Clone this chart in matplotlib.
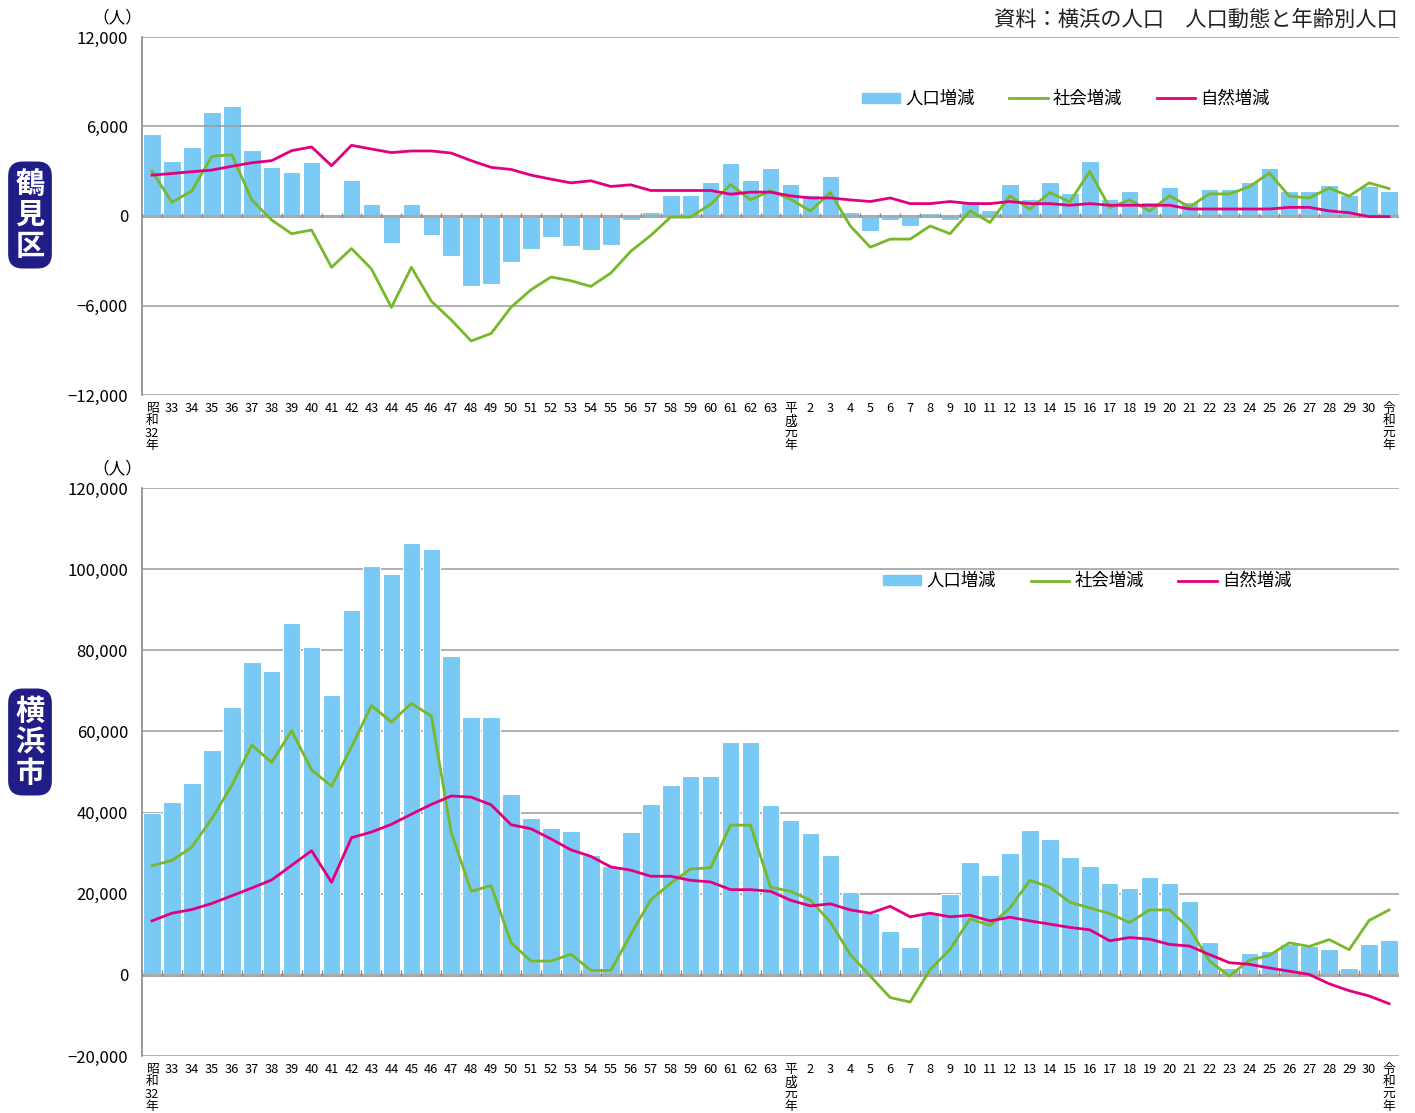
import numpy as np
import matplotlib
matplotlib.use('Agg')
import matplotlib.pyplot as plt
from matplotlib.lines import Line2D
from matplotlib.patches import Patch

plt.rcParams['font.family'] = ['Noto Sans CJK JP', 'DejaVu Sans']

# year labels: 昭和32 .. 63, 平成元 .. 30, 令和元
years = (['昭\n和\n32\n年'] + [str(y) for y in range(33, 64)]
         + ['平\n成\n元\n年'] + [str(y) for y in range(2, 31)]
         + ['令\n和\n元\n年'])

# 鶴見区
tsurumi_total = [5500, 3700, 4600, 7000, 7350, 4450, 3300, 2950, 3600, -70,
                 2400, 800, -1800, 800, -1300, -2670, -4700, -4560, -3060, -2180,
                 -1420, -2040, -2290, -1930, -270, 290, 1440, 1440, 2290,
                 3570, 2430, 3190,
                 2160, 1420, 2670, 290, -1030, -270, -650, 180, -270, 1030,
                 400, 2160, 1170, 2290, 1530, 3690, 1170, 1660, 920, 1930,
                 920, 1800, 1800, 2290, 3190, 1660, 1660, 2070, 1420, 2040,
                 1660]
tsurumi_social = [3010, 920, 1690, 4000, 4110, 1080, -270, -1190, -940, -3440,
                  -2180, -3550, -6130, -3440, -5710, -6970, -8380, -7870, -6110, -4940,
                  -4090, -4340, -4720, -3820, -2360, -1300, -70, -70, 790,
                  2110, 1080, 1690,
                  1120, 340, 1570, -670, -2090, -1550, -1550, -670, -1190, 340,
                  -430, 1350, 450, 1570, 940, 2990, 560, 1080, 340, 1350,
                  610, 1480, 1480, 1960, 2880, 1330, 1210, 1870, 1330, 2220,
                  1840]
tsurumi_natural = [2740, 2850, 2970, 3080, 3330, 3570, 3710, 4380, 4630, 3370,
                   4740, 4490, 4250, 4360, 4360, 4220, 3710, 3260, 3120, 2740,
                   2470, 2220, 2360, 1980, 2090, 1710, 1710, 1710, 1710,
                   1460, 1600, 1600,
                   1350, 1210, 1210, 1080, 970, 1210, 830, 830, 970, 830,
                   830, 970, 830, 830, 720, 830, 720, 720, 720, 720,
                   470, 470, 470, 470, 470, 580, 580, 340, 220, -40,
                   -40]

# 横浜市
yokohama_total = [39800, 42700, 47300, 55500, 65900, 77200, 74900, 86800, 80800, 69100,
                  90000, 100800, 98700, 106400, 104900, 78600, 63600, 63600, 44600, 38700,
                  36300, 35500, 29600, 26900, 35100, 42200, 46900, 49100, 49100,
                  57300, 57300, 41800,
                  38200, 35000, 29600, 20400, 15200, 10800, 6900, 15400, 19900, 27700,
                  24500, 30000, 35800, 33600, 29100, 26900, 22700, 21400, 24100, 22700,
                  18200, 8100, 1600, 5400, 5900, 7700, 7100, 6400, 1800, 7700,
                  8600]
yokohama_social = [26900, 28200, 31500, 38500, 46700, 56600, 52400, 60200, 50500, 46500,
                   56200, 66400, 62300, 66900, 63800, 35100, 20600, 22000, 7900, 3400,
                   3400, 5100, 1100, 1100, 10000, 18500, 22600, 26100, 26400,
                   36900, 36900, 21600,
                   20600, 18400, 13000, 5000, -300, -5600, -6700, 1300, 6300, 13800,
                   12200, 16500, 23300, 21600, 17900, 16500, 15100, 12900, 16000, 16000,
                   11400, 3400, -300, 3600, 4800, 7900, 7000, 8700, 6200, 13400,
                   16000]
yokohama_natural = [13300, 15200, 16100, 17600, 19500, 21400, 23400, 27000, 30600, 22800,
                    33800, 35200, 37100, 39600, 42000, 44100, 43800, 41900, 37000, 36000,
                    33500, 30800, 29200, 26600, 25800, 24300, 24300, 23300, 22900,
                    21000, 21000, 20600,
                    18400, 17000, 17500, 16000, 15200, 16900, 14300, 15200, 14300, 14700,
                    13300, 14200, 13300, 12500, 11700, 11100, 8400, 9200, 8800, 7500,
                    7100, 5000, 3000, 2600, 1700, 900, 100, -2200, -3900, -5200,
                    -7100]

BAR = '#78c9f3'
GREEN = '#78b82a'
PINK = '#e3007f'
NAVY = '#201d87'
GRID = '#9a9a9a'

fig = plt.figure(figsize=(14.15, 11.13), dpi=100)


def draw_panel(ax, total, social, natural, yticks, grid_over_bars):
    x = np.arange(len(years))
    ax.bar(x, total, width=0.88, color=BAR, edgecolor='white', linewidth=0.8,
           zorder=2)
    ax.plot(x, social, color=GREEN, lw=2.0, zorder=4)
    ax.plot(x, natural, color=PINK, lw=2.0, zorder=4)

    gz = 3 if grid_over_bars else 1
    for t in yticks:
        if t == 0:
            continue
        ax.axhline(t, color=GRID, lw=1.1, zorder=gz)
    ax.axhline(0, color='#aaaaaa', lw=2.2, zorder=3)
    # small ticks on the zero line between years
    span = yticks[-1] - yticks[0]
    ax.vlines(np.arange(-0.5, len(years)), -span * 0.002, span * 0.009,
              color='#888888', lw=1.0, zorder=3)

    ax.set_xlim(-0.5, len(years) - 0.5)
    ax.set_ylim(yticks[0], yticks[-1])
    ax.set_yticks(yticks)
    ax.set_yticklabels([f'{t:,}'.replace('-', '−') for t in yticks],
                       fontsize=12)
    ax.set_xticks(x)
    ax.set_xticklabels(years, fontsize=9.2, linespacing=0.95, va='top')
    ax.tick_params(axis='x', length=0, pad=5)
    ax.tick_params(axis='y', length=0, pad=10)
    for s in ['top', 'right', 'bottom']:
        ax.spines[s].set_visible(False)
    ax.spines['left'].set_color('#888888')
    ax.spines['left'].set_linewidth(1.2)

    handles = [Patch(color=BAR), Line2D([], [], color=GREEN, lw=2.0),
               Line2D([], [], color=PINK, lw=2.0)]
    return handles


legend_kw = dict(ncol=3, frameon=False, loc='center', fontsize=12.5,
                 handlelength=2.2, handleheight=0.5, handletextpad=0.3,
                 columnspacing=2.0)

# top panel
ax1 = fig.add_axes([142 / 1415, 1 - 395 / 1113, 1257 / 1415, 358 / 1113])
h = draw_panel(ax1, tsurumi_total, tsurumi_social, tsurumi_natural,
               [-12000, -6000, 0, 6000, 12000], True)
ax1.legend(h, ['人口増減', '社会増減', '自然増減'],
           bbox_to_anchor=(0.735, 0.827), **legend_kw)

# bottom panel
ax2 = fig.add_axes([142 / 1415, 1 - 1056 / 1113, 1257 / 1415, 568 / 1113])
h = draw_panel(ax2, yokohama_total, yokohama_social, yokohama_natural,
               [-20000, 0, 20000, 40000, 60000, 80000, 100000, 120000], False)
ax2.legend(h, ['人口増減', '社会増減', '自然増減'],
           bbox_to_anchor=(0.752, 0.836), **legend_kw)

# unit labels
fig.text(117 / 1415, 1 - 18 / 1113, '（人）', ha='center', va='center', fontsize=12)
fig.text(117 / 1415, 1 - 469 / 1113, '（人）', ha='center', va='center', fontsize=12)

# source
fig.text(1398 / 1415, 1 - 20 / 1113, '資料：横浜の人口　人口動態と年齢別人口',
         ha='right', va='center', fontsize=15.3, color='#222222')

# panel names
for name, yc in [('鶴\n見\n区', 215), ('横\n浜\n市', 742)]:
    fig.text(30 / 1415, 1 - yc / 1113, name, ha='center', va='center',
             fontsize=21, fontweight='bold', color='white', linespacing=1.05,
             bbox=dict(boxstyle='round,pad=0.25,rounding_size=0.5',
                       facecolor=NAVY, edgecolor='none'))

fig.savefig('out.png', dpi=100)
